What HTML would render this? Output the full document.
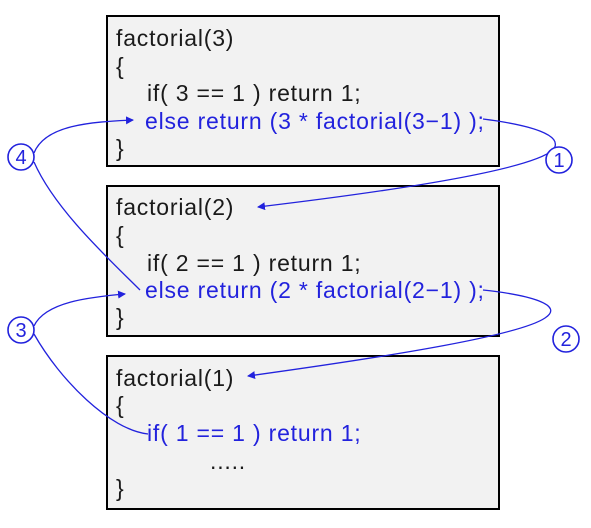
<!DOCTYPE html>
<html><head><style>
body{margin:0;background:#fff;width:591px;height:528px;position:relative;overflow:hidden;font-family:"Liberation Sans","NanumGothic",sans-serif;}
.box{position:absolute;left:106px;width:390px;background:#f2f2f2;border:2px solid #000;}
.t{position:absolute;font-size:23px;line-height:28px;white-space:pre;color:#1a1a1a;letter-spacing:0.8px;}
.b{color:#2222dd;}
svg{position:absolute;left:0;top:0;}
</style></head><body>
<div class="box" style="top:15px;height:148px"></div>
<div class="box" style="top:185px;height:148px"></div>
<div class="box" style="top:355px;height:151px"></div>

<div class="t" style="left:116px;top:24px">factorial(3)</div>
<div class="t" style="left:116px;top:52px">{</div>
<div class="t" style="left:147px;top:79px">if( 3 == 1 ) return 1;</div>
<div class="t b" style="left:145px;top:107px">else return (3 * factorial(3−1) );</div>
<div class="t" style="left:116px;top:134px">}</div>

<div class="t" style="left:116px;top:193px">factorial(2)</div>
<div class="t" style="left:116px;top:221px">{</div>
<div class="t" style="left:147px;top:249px">if( 2 == 1 ) return 1;</div>
<div class="t b" style="left:145px;top:276px">else return (2 * factorial(2−1) );</div>
<div class="t" style="left:116px;top:303px">}</div>

<div class="t" style="left:116px;top:364px">factorial(1)</div>
<div class="t" style="left:116px;top:391px">{</div>
<div class="t b" style="left:147px;top:419px">if( 1 == 1 ) return 1;</div>
<div class="t" style="left:210px;top:447px">.....</div>
<div class="t" style="left:116px;top:474px">}</div>

<svg width="591" height="528">
<defs><marker id="a" markerWidth="8" markerHeight="8" refX="7" refY="4" orient="auto" markerUnits="userSpaceOnUse"><path d="M0,0 L8,4 L0,8 z" fill="#2222dd"/></marker></defs>
<g fill="none" stroke="#2222dd" stroke-width="1.3">
<path d="M483,119 C530,125 565,135 553,150 C530,170 400,190 258,207" marker-end="url(#a)"/>
<path d="M483,290 C530,295 565,305 545,318 C520,335 400,355 248,376" marker-end="url(#a)"/>
<path d="M34,153 C45,125 90,122 133,120" marker-end="url(#a)"/>
<path d="M34,162 C55,210 110,260 140,290"/>
<path d="M34,326 C45,302 90,297 125,294" marker-end="url(#a)"/>
<path d="M34,334 C60,380 110,430 148,434"/>
</g>
<g fill="#fff" stroke="#2222dd" stroke-width="1.6">
<circle cx="559" cy="160" r="13"/><circle cx="566" cy="339" r="13"/>
<circle cx="21" cy="157" r="13"/><circle cx="21" cy="330" r="13"/>
</g>
<g fill="#2222dd" font-family="Liberation Sans,sans-serif" font-size="20" text-anchor="middle">
<text x="559" y="167">1</text><text x="566" y="346">2</text>
<text x="21" y="164">4</text><text x="21" y="337">3</text>
</g>
</svg>
</body></html>
